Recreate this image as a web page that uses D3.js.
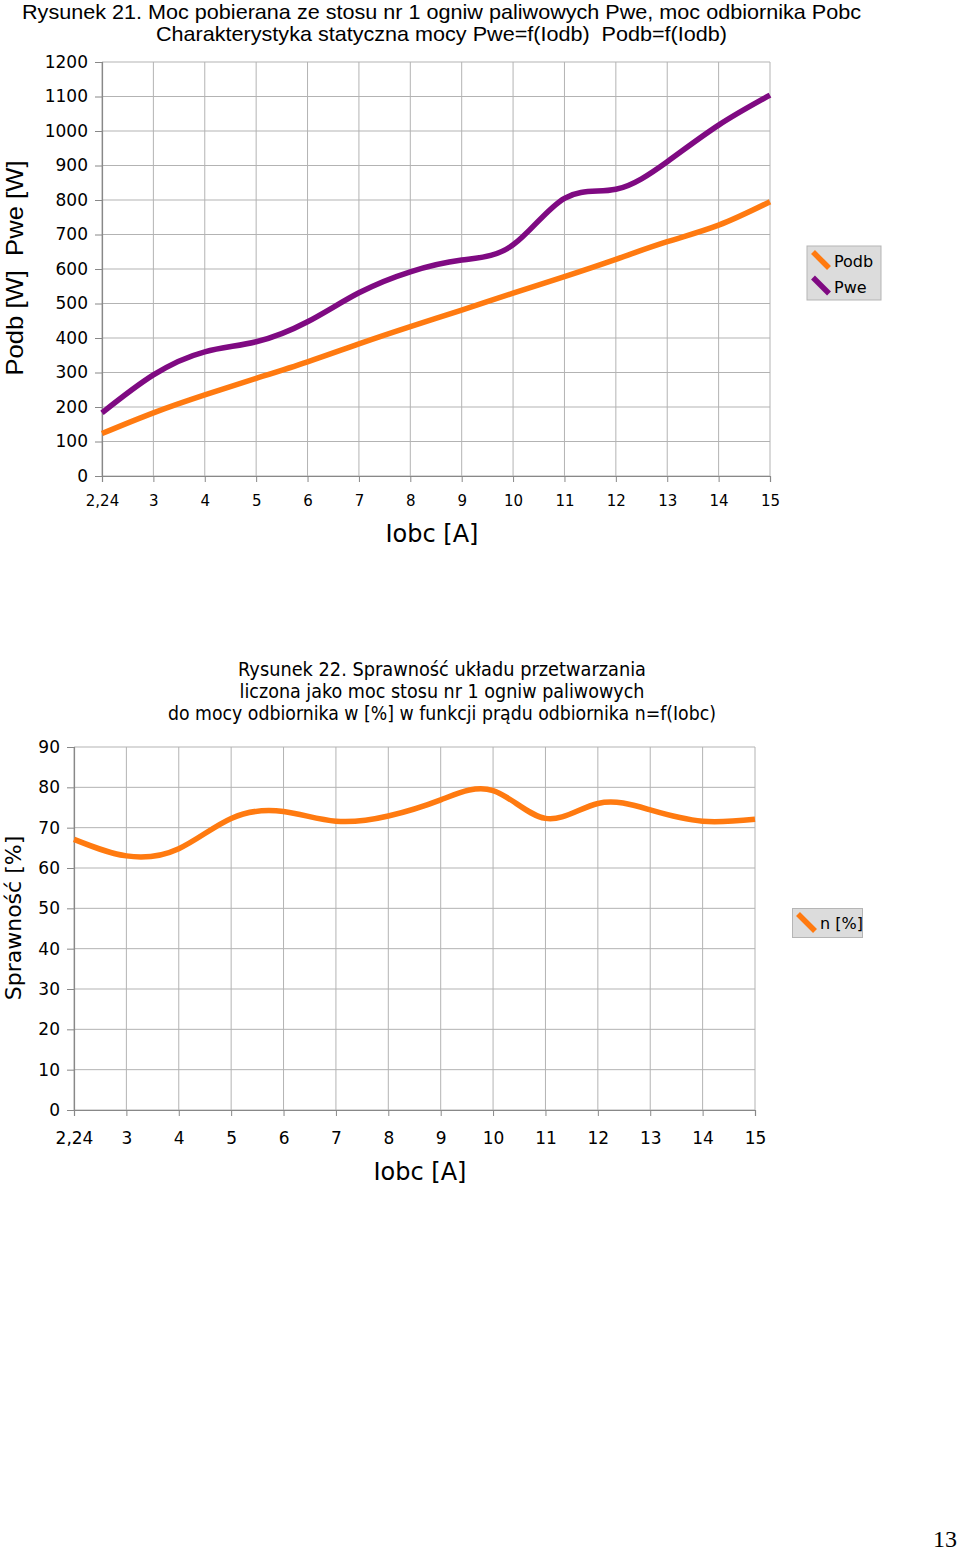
<!DOCTYPE html>
<html><head><meta charset="utf-8">
<script src="https://cdn.jsdelivr.net/npm/d3@7"></script>
<style>body{margin:0;background:#fff}svg{display:block}text{white-space:pre}</style>
</head><body>
<svg id="c" width="960" height="1552"></svg>
<script>
const categories = ["2,24","3","4","5","6","7","8","9","10","11","12","13","14","15"];
const podb = [123,183,235,283,331,383,433,481,530,578,628,679,727,795];
const pwe  = [183,293,360,389,447,531,592,626,670,805,831,911,1017,1104];
const eta  = [67.1,63.0,64.8,72.3,74.0,71.6,72.9,76.9,79.2,72.3,76.0,74.4,71.6,72.1];
const yTicks1 = [0,100,200,300,400,500,600,700,800,900,1000,1100,1200];
const yTicks2 = [0,10,20,30,40,50,60,70,80,90];
const ORANGE = "#ff7a10", PURPLE = "#7f0a82";

const svg = d3.select("#c");
const FONT = "DejaVu Sans";

function drawChart(o){
  const g = svg.append("g");
  const x = d3.scalePoint().domain(categories).range([o.x0,o.x1]);
  const y = d3.scaleLinear().domain(o.ydom).range([o.y0,o.y1]);
  g.selectAll(".hg").data(o.yticks).join("line")
    .attr("x1",o.x0).attr("x2",o.x1).attr("y1",d=>y(d)).attr("y2",d=>y(d))
    .attr("stroke","#b3b3b3").attr("stroke-width",1);
  g.selectAll(".vg").data(categories).join("line")
    .attr("x1",d=>x(d)).attr("x2",d=>x(d)).attr("y1",o.y0).attr("y2",o.y1)
    .attr("stroke","#b3b3b3").attr("stroke-width",1);
  const ay = g.append("g").attr("transform",`translate(${o.x0},0)`)
    .call(d3.axisLeft(y).tickValues(o.yticks).tickSize(7).tickPadding(7).tickFormat(d3.format("d")));
  ay.select(".domain").attr("stroke","#888").attr("stroke-width",1.2);
  ay.selectAll(".tick line").attr("stroke","#888");
  ay.selectAll("text").attr("font-family",FONT).attr("font-size",o.yfs).attr("fill","#000");
  const ax = g.append("g").attr("transform",`translate(0,${o.y0})`)
    .call(d3.axisBottom(x).tickSize(6).tickPadding(o.xpad));
  ax.select(".domain").attr("stroke","#888").attr("stroke-width",1.2);
  ax.selectAll(".tick line").attr("stroke","#888");
  ax.selectAll("text").attr("font-family",FONT).attr("font-size",o.xfs).attr("fill","#000");
  o.series.forEach(s=>{
    g.append("path").datum(s.values)
      .attr("fill","none").attr("stroke",s.color).attr("stroke-width",5.5)
      .attr("stroke-linecap","butt").attr("stroke-linejoin","round")
      .attr("d", d3.line().x((d,i)=>x(categories[i])).y(d=>y(d)).curve(d3.curveNatural));
  });
  return {x,y};
}

drawChart({x0:102,x1:770,y0:476,y1:62,ydom:[0,1200],yticks:yTicks1,yfs:17,xfs:15,xpad:13,
  series:[{values:podb,color:ORANGE},{values:pwe,color:PURPLE}]});
drawChart({x0:74,x1:755,y0:1110,y1:747,ydom:[0,90],yticks:yTicks2,yfs:17,xfs:17,xpad:16,
  series:[{values:eta,color:ORANGE}]});

function txt(t,x,y,fs,fam,opts={}){
  const e = svg.append("text").attr("x",x).attr("y",y).attr("font-size",fs)
    .attr("font-family",fam).attr("text-anchor",opts.anchor||"middle").attr("fill","#000")
    .attr("xml:space","preserve").text(t);
  if(opts.len) e.attr("textLength",opts.len).attr("lengthAdjust","spacingAndGlyphs");
  if(opts.rot) e.attr("transform",`rotate(-90,${x},${y})`);
  return e;
}
txt("Rysunek 21. Moc pobierana ze stosu nr 1 ogniw paliwowych Pwe, moc odbiornika Pobc",441.5,19,21,"Liberation Sans",{len:839});
txt("Charakterystyka statyczna mocy Pwe=f(Iodb)  Podb=f(Iodb)",441.5,41,21,"Liberation Sans",{len:571});
txt("Rysunek 22. Sprawność układu przetwarzania",442,676,19,FONT,{len:408});
txt("liczona jako moc stosu nr 1 ogniw paliwowych",442,698,19,FONT,{len:405});
txt("do mocy odbiornika w [%] w funkcji prądu odbiornika n=f(Iobc)",442,720,19,FONT,{len:548});
txt("Iobc [A]",432,542,24,FONT);
txt("Iobc [A]",420,1180,24,FONT);
txt("Podb [W]  Pwe [W]",23,268,24,"Liberation Sans",{rot:true,len:215});
txt("Sprawność [%]",21,918,22,FONT,{rot:true});
const leg1 = svg.append("g");
leg1.append("rect").attr("x",807).attr("y",246).attr("width",74).attr("height",54)
  .attr("fill","#dcdcdc").attr("stroke","#b5b5b5");
[["Podb",ORANGE,0],["Pwe",PURPLE,25.5]].forEach(([n,c,dy])=>{
  leg1.append("line").attr("x1",813).attr("y1",252+dy).attr("x2",829).attr("y2",268+dy)
    .attr("stroke",c).attr("stroke-width",5.5);
  leg1.append("text").attr("x",834).attr("y",267+dy).attr("font-family",FONT).attr("font-size",16).text(n);
});
const leg2 = svg.append("g");
leg2.append("rect").attr("x",792.5).attr("y",908.5).attr("width",70).attr("height",29)
  .attr("fill","#dcdcdc").attr("stroke","#b5b5b5");
leg2.append("line").attr("x1",798).attr("y1",914).attr("x2",815).attr("y2",931)
  .attr("stroke",ORANGE).attr("stroke-width",5.5);
leg2.append("text").attr("x",820).attr("y",929).attr("font-family",FONT).attr("font-size",16).text("n [%]");
txt("13",945,1547,24,"Liberation Serif");
</script>
</body></html>
